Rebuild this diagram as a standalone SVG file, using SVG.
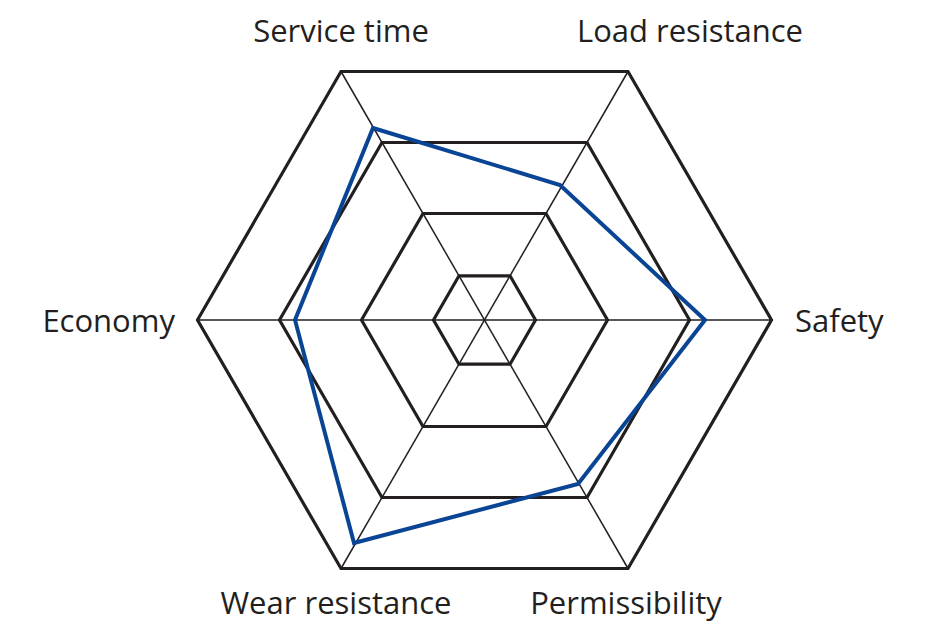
<svg xmlns="http://www.w3.org/2000/svg" width="930" height="642" viewBox="0 0 930 642">
<style>
.ring{fill:none;stroke:#231f20;stroke-width:3.2;stroke-linejoin:miter}
.spoke{stroke:#231f20;stroke-width:1.5}
.lbl{font-family:"Open Sans","Liberation Sans",sans-serif;font-size:31px;fill:#231f20}
</style>
<rect width="930" height="642" fill="#fff"/>
<g id="grid">
<polygon class="ring" points="197.5,320 341,71.5 628,71.5 771.5,320 628,568.5 341,568.5"/>
<polygon class="ring" points="279.5,320 382,142.5 587,142.5 689.5,320 587,497.5 382,497.5"/>
<polygon class="ring" points="361.5,320 423,213.5 546,213.5 607.5,320 546,426.5 423,426.5"/>
<polygon class="ring" points="433.5,320 459,275.8 510,275.8 535.5,320 510,364.2 459,364.2"/>
</g>
<g id="connectors">
<line class="spoke" x1="197.5" y1="320" x2="771.5" y2="320"/>
<line class="spoke" x1="341" y1="71.5" x2="628" y2="568.5"/>
<line class="spoke" x1="628" y1="71.5" x2="341" y2="568.5"/>
</g>
<g id="data">
<polygon points="373,128 560,185 705,320 578,484 354,543 295,320" fill="none" stroke="#0a4595" stroke-width="4" stroke-linejoin="miter"/>
</g>
<g id="labels">
<text class="lbl" x="341" y="42" text-anchor="middle">Service time</text>
<text class="lbl" x="690" y="42" text-anchor="middle">Load resistance</text>
<text class="lbl" x="175" y="332" text-anchor="end">Economy</text>
<text class="lbl" x="795" y="332">Safety</text>
<text class="lbl" x="336" y="614" text-anchor="middle">Wear resistance</text>
<text class="lbl" x="626" y="614" text-anchor="middle">Permissibility</text>
</g>
</svg>
